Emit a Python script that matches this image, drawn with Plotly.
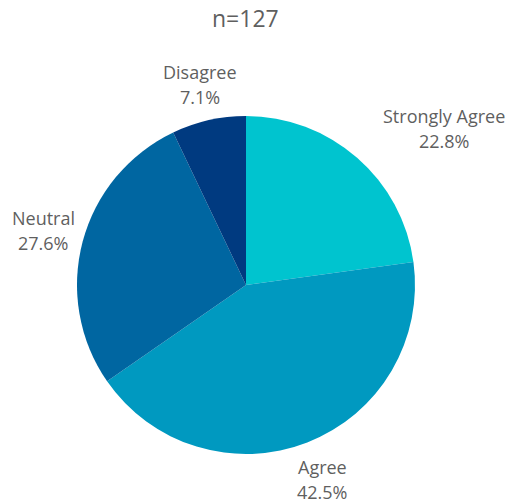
import plotly.graph_objects as go

# Survey responses (n = 127)
labels = ["Strongly Agree", "Agree", "Neutral", "Disagree"]
counts = [29, 54, 35, 9]
colors = ["#00C4CF", "#0099C0", "#0066A1", "#003A80"]

total = sum(counts)
pcts = [100 * c / total for c in counts]

W, H = 506, 504
cx, cy, r = 246, 285, 169

fig = go.Figure(
    go.Pie(
        labels=labels,
        values=counts,
        marker=dict(colors=colors, line=dict(width=0)),
        sort=False,
        direction="clockwise",
        rotation=0,
        textinfo="none",
        hoverinfo="label+percent",
        showlegend=False,
        domain=dict(
            x=[(cx - r) / W, (cx + r) / W],
            y=[1 - (cy + r) / H, 1 - (cy - r) / H],
        ),
    )
)

# Label anchor points (pixel centres of the two text lines)
label_pos = {
    "Strongly Agree": (444, 116),
    "Agree": (322, 467),
    "Neutral": (43, 218),
    "Disagree": (200, 72),
}

font = dict(family="Open Sans", size=18, color="#5f5f5f")
annotations = [
    dict(text="n=127", x=245 / W, y=1 - 18 / H, xref="paper", yref="paper",
         showarrow=False, xanchor="center", yanchor="middle",
         font=dict(family="Open Sans", size=23, color="#5f5f5f"))
]
for lab, p in zip(labels, pcts):
    px, py = label_pos[lab]
    for i, line in enumerate([lab, f"{p:.1f}%"]):
        annotations.append(dict(
            text=line, x=px / W, y=1 - (py + 25 * i) / H,
            xref="paper", yref="paper", showarrow=False,
            xanchor="center", yanchor="middle", font=font,
        ))

fig.update_layout(
    width=W, height=H,
    margin=dict(l=0, r=0, t=0, b=0),
    paper_bgcolor="white",
    plot_bgcolor="white",
    annotations=annotations,
)

fig.write_html("out.html")
